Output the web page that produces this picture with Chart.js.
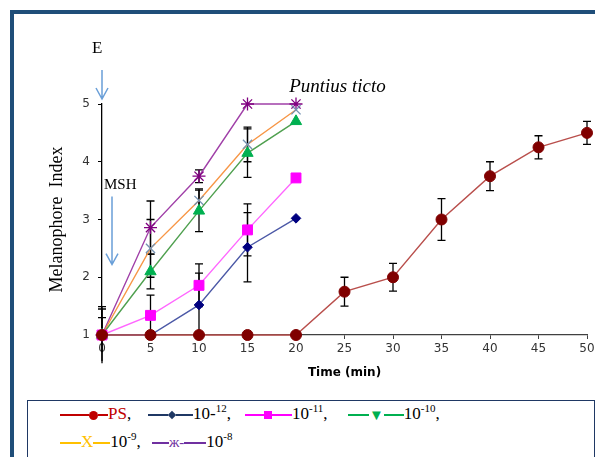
<!DOCTYPE html>
<html>
<head>
<meta charset="utf-8">
<script src="https://cdn.jsdelivr.net/npm/chart.js@4.4.0/dist/chart.umd.min.js"></script>
<style>
  body { margin: 0; background: #fff; }
  #wrap { position: relative; width: 595px; height: 457px; overflow: hidden; }
  #chart { position: absolute; left: 0; top: 0; }
  .frame { position: absolute; left: 10px; top: 10px; width: 700px; height: 600px;
    border-left: 4.5px solid #1f4e79; border-top: 4.5px solid #1f4e79; }
  .legend { position: absolute; left: 27px; top: 400px; width: 566px; height: 80px;
    border: 1px solid #1f3864; background: #fff; }
  .row { position: absolute; left: 0; font: 17px "Liberation Serif", "Times New Roman", serif;
    color: #000; white-space: nowrap; height: 22px; line-height: 22px; }
  .it { position: absolute; top: 0; }
  .it i { display: inline-block; height: 1.5px; vertical-align: middle; }
  .it em { display: inline-block; vertical-align: middle; }
  .it b { font-weight: normal; display: inline-block; line-height: 10px; vertical-align: middle; }
  sup { font-size: 11px; vertical-align: 7px; line-height: 0; }
</style>
</head>
<body>
<div id="wrap">
  <canvas id="chart" width="595" height="457"></canvas>
  <div class="frame"></div>
  <div class="legend">
    <div class="row" style="top:2px">
      <span class="it" style="left:32px"><i style="width:29px;background:#c00000"></i><em style="width:9px;height:9px;border-radius:50%;background:#c00000"></em><i style="width:10px;background:#c00000"></i><span style="color:#c00000">PS</span>,</span>
      <span class="it" style="left:120px"><i style="width:20px;background:#1f3864"></i><em style="width:6px;height:6px;margin:0 1px;transform:rotate(45deg);background:#1f3864"></em><i style="width:17px;background:#1f3864"></i>10-<sup>12</sup>,</span>
      <span class="it" style="left:217px"><i style="width:19px;background:#ff00ff"></i><em style="width:8px;height:8px;background:#ff00ff"></em><i style="width:20px;background:#ff00ff"></i>10<sup>-11</sup>,</span>
      <span class="it" style="left:320px"><i style="width:21px;background:#00b050"></i><b style="color:#00b050;font-size:15px">&#9660;</b><i style="width:20px;background:#00b050"></i>10<sup>-10</sup>,</span>
    </div>
    <div class="row" style="top:30px">
      <span class="it" style="left:32px"><i style="width:21px;background:#ffc000"></i><span style="color:#ffc000">X</span><i style="width:17px;background:#ffc000"></i>10<sup>-9</sup>,</span>
      <span class="it" style="left:124px"><i style="width:17px;background:#7030a0"></i><span style="color:#7030a0;font-size:15px">&#1078;-</span><i style="width:22px;background:#7030a0"></i>10<sup>-8</sup></span>
    </div>
  </div>
</div>
<script>
  // time points (min)
  const timePS = [0, 5, 10, 15, 20, 25, 30, 35, 40, 45, 50];
  const timeDose = [0, 5, 10, 15, 20];

  // melanophore index
  const valPS = [1, 1, 1, 1, 1, 1.75, 2.0, 3.0, 3.75, 4.25, 4.5];
  const val12 = [1, 1, 1.52, 2.52, 3.02];
  const val11 = [1, 1.34, 1.86, 2.82, 3.72];
  const val10 = [1, 2.1, 3.15, 4.15, 4.7];
  const val9 = [1, 2.5, 3.33, 4.3, 4.9];
  const val8 = [1, 2.86, 3.75, 5, 5];

  // standard error (bars)
  const errPS = [0, 0, 0, 0, 0, 0.25, 0.24, 0.36, 0.25, 0.2, 0.2];
  const err12 = [0, 0, 0.55, 0.6, 0];
  const err11 = [0, 0.35, 0.37, 0.45, 0];
  const err10 = [0.3, 0.3, 0.36, 0.42, 0];
  const err9 = [0.45, 0.5, 0.2, 0.3, 0];
  const err8 = [0.49, 0.46, 0.11, 0, 0];

  const xTicks = [0, 5, 10, 15, 20, 25, 30, 35, 40, 45, 50];
  const yTicks = [1, 2, 3, 4, 5];

  const pts = function (xs, ys) {
    return xs.map(function (x, i) { return { x: x, y: ys[i] }; });
  };

  const errorBars = {
    id: 'errorBars',
    beforeDatasetsDraw: function (chart) {
      const ctx = chart.ctx;
      const ys = chart.scales.y;
      ctx.save();
      ctx.strokeStyle = '#000';
      ctx.lineWidth = 1.3;
      chart.data.datasets.forEach(function (ds, di) {
        const meta = chart.getDatasetMeta(di);
        (ds.errors || []).forEach(function (e, i) {
          if (!e) return;
          const px = meta.data[i].x;
          const v = ds.data[i].y;
          const top = ys.getPixelForValue(v + e);
          const bot = ys.getPixelForValue(v - e);
          ctx.beginPath();
          ctx.moveTo(px, top); ctx.lineTo(px, bot);
          ctx.moveTo(px - 4, top); ctx.lineTo(px + 4, top);
          if (v - e >= 1) { ctx.moveTo(px - 4, bot); ctx.lineTo(px + 4, bot); }
          ctx.stroke();
        });
      });
      ctx.restore();
    }
  };

  const notes = {
    id: 'notes',
    afterDraw: function (chart) {
      const ctx = chart.ctx;
      const xs = chart.scales.x;
      const ys = chart.scales.y;
      const x0 = xs.getPixelForValue(0);
      const top = ys.getPixelForValue(5);
      const arrow = function (x, y1, y2) {
        ctx.beginPath();
        ctx.moveTo(x, y1); ctx.lineTo(x, y2);
        ctx.moveTo(x - 6, y2 - 11); ctx.lineTo(x, y2); ctx.lineTo(x + 6, y2 - 11);
        ctx.stroke();
      };
      ctx.save();
      ctx.strokeStyle = '#6a9fd8';
      ctx.lineWidth = 1.5;
      arrow(x0, top - 34, top - 5);
      arrow(x0 + 10, ys.getPixelForValue(3.4), ys.getPixelForValue(2.22));
      ctx.fillStyle = '#000';
      ctx.textAlign = 'left';
      ctx.textBaseline = 'alphabetic';
      ctx.font = '17px "Liberation Serif", serif';
      ctx.fillText('E', x0 - 10, 53);
      ctx.font = '15px "Liberation Serif", serif';
      ctx.fillText('MSH', x0 + 2, 189);
      ctx.font = 'italic 19px "Liberation Serif", serif';
      ctx.fillText('Puntius ticto', xs.getPixelForValue(19.3), 92);
      ctx.restore();
    }
  };

  const line = function (label, data, errors, lineColor, pointColor, style, r) {
    return {
      label: label,
      data: data,
      errors: errors,
      borderColor: lineColor,
      borderWidth: 1.4,
      backgroundColor: pointColor,
      pointBackgroundColor: pointColor,
      pointBorderColor: pointColor,
      pointBorderWidth: style === 'crossRot' || style === 'star' ? 1.3 : 1,
      pointStyle: style,
      pointRadius: r,
      tension: 0,
      clip: false
    };
  };

  new Chart(document.getElementById('chart'), {
    type: 'line',
    data: {
      datasets: [
        line('PS', pts(timePS, valPS), errPS, '#b94f4c', '#800000', 'circle', 5.5),
        line('10-12', pts(timeDose, val12), err12, '#4b58a6', '#000080', 'rectRot', 4.8),
        line('10-11', pts(timeDose, val11), err11, '#ff66ff', '#ff00ff', 'rect', 7),
        line('10-10', pts(timeDose, val10), err10, '#4fa04f', '#00b050', 'triangle', 6.5),
        line('10-9', pts(timeDose, val9), err9, '#f79646', '#7592b2', 'crossRot', 6.5),
        line('10-8', pts(timeDose, val8), err8, '#a040a8', '#800080', 'star', 6.5)
      ]
    },
    options: {
      responsive: false,
      animation: false,
      events: [],
      layout: { padding: { left: 0, right: 4, top: 104, bottom: 77 } },
      plugins: { legend: { display: false }, tooltip: { enabled: false } },
      scales: {
        x: {
          type: 'linear',
          min: 0,
          max: 50,
          afterFit: function (s) { s.height = 45; s.paddingLeft = 0; s.paddingRight = 0; },
          afterBuildTicks: function (s) { s.ticks = xTicks.map(function (v) { return { value: v }; }); },
          grid: { drawOnChartArea: false, drawTicks: true, tickLength: 4, color: '#404040', lineWidth: 1 },
          border: { color: '#404040', width: 1.3 },
          ticks: { color: '#333', padding: 3, font: { family: 'DejaVu Sans', size: 12 }, maxRotation: 0, autoSkip: false },
          title: { display: true, text: 'Time (min)', color: '#000', padding: { top: 4, bottom: 0 },
            font: { family: 'DejaVu Sans', size: 12, weight: 'bold' } }
        },
        y: {
          min: 1,
          max: 5,
          afterFit: function (s) { s.width = 102; s.paddingTop = 0; s.paddingBottom = 0; },
          afterBuildTicks: function (s) { s.ticks = yTicks.map(function (v) { return { value: v }; }); },
          grid: { drawOnChartArea: false, drawTicks: true, tickLength: 4, color: '#000', lineWidth: 1 },
          border: { color: '#000', width: 1.3 },
          ticks: { color: '#333', padding: 8, font: { family: 'DejaVu Sans', size: 12 } },
          title: { display: true, text: 'Melanophore  Index', color: '#000', padding: { top: 46, bottom: 0 },
            font: { family: 'Liberation Serif', size: 18 } }
        }
      }
    },
    plugins: [errorBars, notes]
  });
</script>
</body>
</html>
